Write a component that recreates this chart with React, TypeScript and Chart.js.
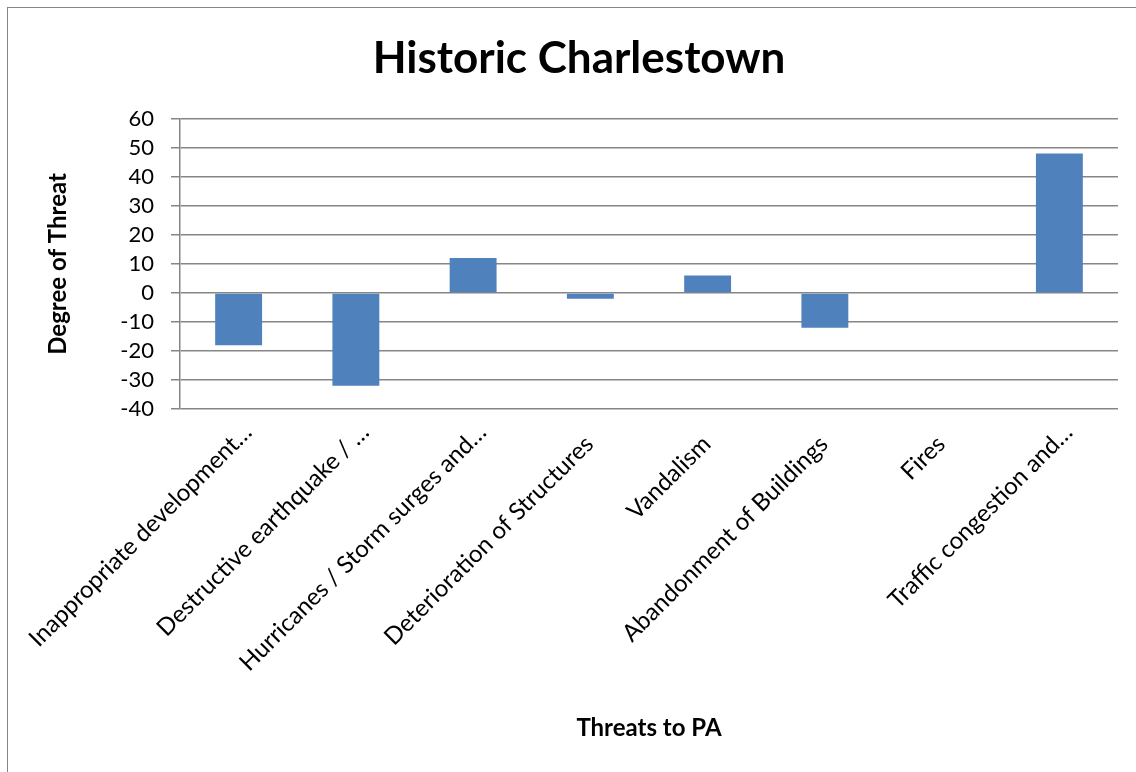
import React, { useEffect, useRef } from "react";
import { Chart, registerables } from "chart.js";

Chart.register(...registerables);

const chartTitle = "Historic Charlestown";
const xAxisTitle = "Threats to PA";
const yAxisTitle = "Degree of Threat";

const categories = [
  "Inappropriate development…",
  "Destructive earthquake / …",
  "Hurricanes / Storm surges and…",
  "Deterioration of Structures",
  "Vandalism",
  "Abandonment of Buildings",
  "Fires",
  "Traffic congestion and…",
];

const threatValues = [-18, -32, 12, -2, 6, -12, 0, 48];

const yMin = -40;
const yMax = 60;
const yStep = 10;

const FONT = "Lato, 'Open Sans', sans-serif";
const GRID = "#868686";

const isTruncated = (i: number) => String(categories[i] ?? "").endsWith("…");

export default function App() {
  const ref = useRef<HTMLCanvasElement>(null);

  useEffect(() => {
    const chart = new Chart(ref.current as HTMLCanvasElement, {
      type: "bar",
      data: {
        labels: categories,
        datasets: [
          {
            label: "Degree of Threat",
            data: threatValues,
            backgroundColor: "#4F81BD",
            borderWidth: 0,
            barPercentage: 0.4,
            categoryPercentage: 1,
          },
        ],
      },
      options: {
        responsive: false,
        animation: false,
        layout: { padding: { top: 0, left: 32, right: 28, bottom: 51 } },
        plugins: {
          legend: { display: false },
          tooltip: { enabled: false },
          title: {
            display: true,
            text: chartTitle,
            color: "#000",
            font: { family: FONT, size: 44, weight: "bold" },
            padding: { top: 24, bottom: 34 },
          },
        },
        scales: {
          x: {
            grid: { display: false, drawTicks: false },
            border: { display: false },
            ticks: {
              autoSkip: false,
              maxRotation: 45,
              minRotation: 45,
              padding: 9,
              labelOffset: -1,
              color: "#000",
              showLabelBackdrop: (ctx: any) => isTruncated(ctx.index),
              backdropColor: "rgba(255,255,255,0)",
              backdropPadding: 0,
              font: (ctx: any) => ({
                family: FONT,
                size: 24,
                lineHeight: isTruncated(ctx.index) ? 1.2 : 2.6,
              }),
            },
            title: {
              display: true,
              text: xAxisTitle,
              color: "#000",
              font: { family: FONT, size: 24, weight: "bold" },
            },
            afterFit: (scale: any) => {
              scale.height = 338;
              scale.paddingLeft = 0;
              scale.paddingRight = 0;
            },
          },
          y: {
            min: yMin,
            max: yMax,
            grid: {
              color: GRID,
              tickColor: GRID,
              tickLength: 9,
              lineWidth: 1.5,
            },
            border: { color: GRID, width: 1.5 },
            ticks: {
              stepSize: yStep,
              autoSkip: false,
              padding: 17,
              color: "#000",
              font: { family: FONT, size: 22 },
            },
            title: {
              display: true,
              text: yAxisTitle,
              color: "#000",
              font: { family: FONT, size: 24, weight: "bold" },
            },
            afterFit: (scale: any) => {
              scale.width = 140;
            },
          },
        },
      },
    });
    return () => chart.destroy();
  }, []);

  return (
    <div
      style={{
        position: "fixed",
        left: 7,
        top: 7,
        width: 1138,
        height: 790,
        borderLeft: "1px solid #868686",
        borderTop: "1px solid #868686",
        background: "#fff",
      }}
    >
      <canvas
        ref={ref}
        width={1138}
        height={790}
        style={{ display: "block", width: 1138, height: 790 }}
      />
    </div>
  );
}
